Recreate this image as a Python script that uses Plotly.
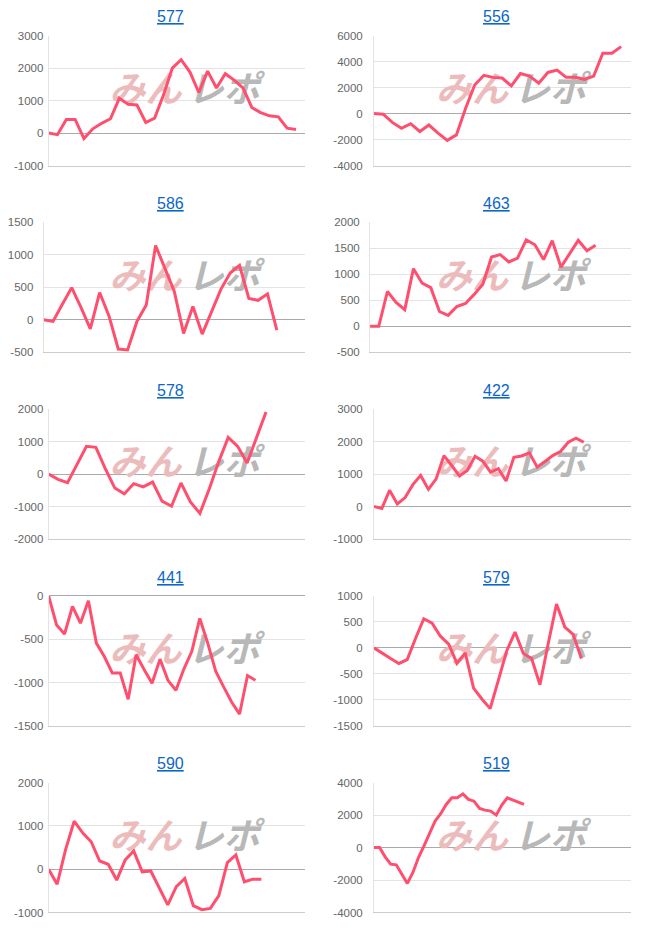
import plotly.graph_objects as go

# ---- data ----
machines = ["577", "556", "586", "463", "578", "422", "441", "579", "590", "519"]

v577 = [0, -50, 420, 420, -170, 130, 300, 440, 1070, 885, 865, 325, 460, 1170, 2000,
        2260, 1880, 1250, 1910, 1390, 1830, 1630, 1390, 790, 630, 530, 500, 150, 110]
v556 = [0, -50, -680, -1130, -780, -1380, -880, -1510, -2060, -1640, 400, 2200, 2950,
        2790, 2740, 2140, 3090, 2890, 2340, 3170, 3350, 2790, 2790, 2640, 2890, 4650,
        4650, 5160]
v586 = [0, -25, 240, 495, 190, -140, 420, 60, -450, -465, -25, 230, 1145, 800, 440,
        -210, 205, -220, 140, 470, 720, 840, 330, 300, 400, -160]
v463 = [0, 0, 670, 460, 320, 1110, 830, 745, 285, 210, 380, 440, 615, 810, 1335, 1380,
        1240, 1315, 1665, 1570, 1285, 1650, 1140, 1400, 1655, 1455, 1560]
v578 = [0, -160, -265, 285, 855, 825, 165, -430, -610, -295, -395, -245, -835, -990,
        -275, -855, -1210, -450, 385, 1130, 855, 345, 1130, 1915]
v422 = [0, -60, 500, 80, 275, 675, 960, 530, 855, 1570, 1265, 940, 1110, 1550, 1400,
        1060, 1165, 785, 1520, 1560, 1655, 1215, 1390, 1570, 1695, 1980, 2110, 1980]
v441 = [0, -335, -440, -120, -315, -55, -545, -700, -890, -890, -1195, -680, -850,
        -1010, -730, -975, -1090, -845, -640, -260, -545, -870, -1050, -1225, -1365,
        -920, -975]
v579 = [0, -110, -205, -300, -225, 180, 560, 475, 225, 70, -300, -95, -775, -985,
        -1170, -615, -55, 305, -110, -205, -710, 85, 845, 400, 260, -205]
v590 = [0, -345, 460, 1110, 840, 635, 190, 115, -250, 215, 420, -60, -40, -420, -825,
        -400, -215, -840, -935, -905, -610, 155, 330, -290, -230, -230]
v519 = [0, 0, -570, -1020, -1060, -1600, -2210, -1530, -610, 100, 860, 1640, 2090, 2660,
        3070, 3070, 3310, 2970, 2860, 2410, 2310, 2250, 2000, 2620, 3070, 2930, 2800, 2660]

series = [v577, v556, v586, v463, v578, v422, v441, v579, v590, v519]

y_min = [-1000, -4000, -500, -500, -2000, -1000, -1500, -1500, -1000, -4000]
y_max = [3000, 6000, 1500, 2000, 2000, 3000, 0, 1000, 2000, 4000]
y_step = [1000, 2000, 500, 500, 1000, 1000, 500, 500, 1000, 2000]
x_max = [29.0, 28.1, 28.0, 30.1, 27.1, 33.1, 32.2, 31.0, 30.1, 46.3]

# ---- layout constants (page pixels; the page keeps its default 8px body margin) ----
BODY = 8
W, H = 640, 925
ROW_TOP0 = 30.0
ROW_STEP = 189.2
PLOT_H = 131.5
PLOT_RIGHT = [301, 631]
PLOT_LEFT_WIDE = [42, 371]
PLOT_LEFT_NARROW = [37, 367]
STANDOFF_WIDE = [2, 8]
STANDOFF_NARROW = [7, 7]
LINE_COLOR = "#ff4f6e"


def fx(px):
    return (px - BODY) / W


def fy(py):
    return 1 - (py - BODY) / H


fig = go.Figure()
layout_axes = {}
annotations = []

for i, (name, vals) in enumerate(zip(machines, series)):
    row, col = divmod(i, 2)
    top = ROW_TOP0 + row * ROW_STEP
    bottom = top + PLOT_H
    ticks = list(range(y_min[i], y_max[i] + 1, y_step[i]))
    labels = [str(t) for t in ticks]
    wide = max(len(s) for s in labels) >= 5
    left = (PLOT_LEFT_WIDE if wide else PLOT_LEFT_NARROW)[col]
    standoff = (STANDOFF_WIDE if wide else STANDOFF_NARROW)[col]
    right = PLOT_RIGHT[col]

    xa = "x" if i == 0 else f"x{i+1}"
    ya = "y" if i == 0 else f"y{i+1}"
    xkey = "xaxis" if i == 0 else f"xaxis{i+1}"
    ykey = "yaxis" if i == 0 else f"yaxis{i+1}"

    def to_data(px, py):
        xd = (px - left) / (right - left) * x_max[i]
        yd = y_max[i] - (py - top) / PLOT_H * (y_max[i] - y_min[i])
        return xd, yd

    # watermark (drawn first so the line sits on top)
    cy = top + 58
    px_pink, py_pink = to_data(140 + col * 330, cy)
    px_gray, py_gray = to_data(219 + col * 330, cy)
    fig.add_trace(go.Scatter(
        x=[px_pink], y=[py_pink], mode="text", text=["みん"],
        textfont=dict(family="Noto Sans CJK JP", size=36, color="#ecbcbc",
                      weight="bold", style="italic"),
        textposition="middle center", hoverinfo="skip", showlegend=False,
        cliponaxis=False, xaxis=xa, yaxis=ya))
    fig.add_trace(go.Scatter(
        x=[px_gray], y=[py_gray], mode="text", text=["レポ"],
        textfont=dict(family="Noto Sans CJK JP", size=36, color="#b8b8b8",
                      weight="bold", style="italic"),
        textposition="middle center", hoverinfo="skip", showlegend=False,
        cliponaxis=False, xaxis=xa, yaxis=ya))

    fig.add_trace(go.Scatter(
        x=list(range(len(vals))), y=vals, mode="lines",
        line=dict(color=LINE_COLOR, width=3),
        showlegend=False, xaxis=xa, yaxis=ya, cliponaxis=False, hoverinfo="y"))

    layout_axes[xkey] = dict(
        domain=[fx(left), fx(right)], anchor=ya, range=[0, x_max[i]],
        showticklabels=False, showgrid=False, zeroline=False, ticks="",
        showline=True, linecolor="#cccccc", linewidth=1, fixedrange=True)
    layout_axes[ykey] = dict(
        domain=[fy(bottom), fy(top)], anchor=xa,
        range=[y_min[i], y_max[i]], tickmode="array", tickvals=ticks, ticktext=labels,
        showgrid=True, gridcolor="#e3e3e3", gridwidth=1,
        zeroline=True, zerolinecolor="#aaaaaa", zerolinewidth=1,
        showline=True, linecolor="#e3e3e3", linewidth=1, ticks="",
        ticklabelstandoff=standoff,
        tickfont=dict(family="Liberation Sans, Arial, sans-serif", size=11.5, color="#666666"),
        fixedrange=True)

    annotations.append(dict(
        text=f"<u>{name}</u>", xref="paper", yref="paper",
        x=fx(165 + col * 330), y=fy(top - 19),
        xanchor="center", yanchor="middle", showarrow=False,
        font=dict(family="Liberation Sans, Arial, sans-serif", size=16, color="#0b67c9")))

fig.update_layout(
    width=W, height=H, autosize=False,
    margin=dict(l=0, r=0, t=0, b=0),
    paper_bgcolor="white", plot_bgcolor="rgba(0,0,0,0)",
    showlegend=False, annotations=annotations, **layout_axes)

fig.write_html("out.html", config={"displayModeBar": False})
